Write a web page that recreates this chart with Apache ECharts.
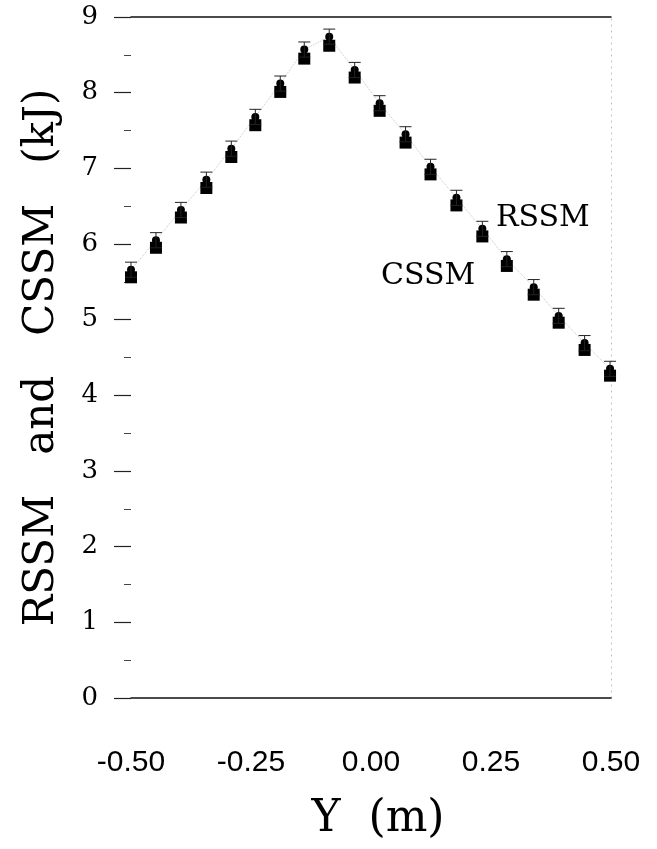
<!DOCTYPE html>
<html>
<head>
<meta charset="utf-8">
<script src="https://cdn.jsdelivr.net/npm/echarts@6/dist/echarts.min.js"></script>
<style>
html,body{margin:0;padding:0;background:#fff;}
#chart{width:657px;height:849px;}
</style>
</head>
<body>
<div id="chart"></div>
<script>
// Position Y (m)
const yPos = [-0.500, -0.448, -0.396, -0.343, -0.291, -0.241, -0.189, -0.139, -0.087, -0.034,
              0.018, 0.072, 0.124, 0.178, 0.232, 0.283, 0.339, 0.391, 0.445, 0.498];
// RSSM (kJ), circles with error bars
const rssm = [5.66, 6.05, 6.45, 6.85, 7.26, 7.68, 8.12, 8.57, 8.74, 8.30,
              7.86, 7.45, 7.02, 6.61, 6.20, 5.80, 5.43, 5.05, 4.69, 4.35];
// CSSM (kJ), squares
const cssm = [5.56, 5.95, 6.35, 6.74, 7.15, 7.57, 8.01, 8.45, 8.62, 8.20,
              7.76, 7.34, 6.92, 6.51, 6.10, 5.71, 5.33, 4.96, 4.60, 4.26];
// RSSM error (kJ)
const rssmErr = [0.10, 0.10, 0.10, 0.10, 0.10, 0.10, 0.10, 0.10, 0.10, 0.10,
                 0.10, 0.10, 0.10, 0.10, 0.10, 0.10, 0.10, 0.10, 0.10, 0.10];
const xTickValues = [-0.5, -0.25, 0, 0.25, 0.5];
const xTickLabels = ['-0.50', '-0.25', '0.00', '0.25', '0.50'];
const yTickLabels = ['0','1','2','3','4','5','6','7','8','9'];
// series text annotations [x, y, text]
const annotations = [[0.358, 6.34, 'RSSM'], [0.119, 5.58, 'CSSM']];

const chart = echarts.init(document.getElementById('chart'), null, {renderer: 'canvas'});

const rssmPts = yPos.map((x, i) => [x, rssm[i]]);
const cssmPts = yPos.map((x, i) => [x, cssm[i]]);
const errPts = yPos.map((x, i) => [x, rssm[i] - rssmErr[i], rssm[i] + rssmErr[i]]);

const option = {
  backgroundColor: '#ffffff',
  animation: false,
  grid: {left: 131, right: 46, top: 17, bottom: 151, containLabel: false},
  xAxis: [{
    type: 'value', min: -0.5, max: 0.5, interval: 0.25, position: 'bottom',
    axisLine: {show: true, onZero: false, lineStyle: {color: '#111', width: 1.5}},
    axisTick: {show: false},
    splitLine: {show: false},
    axisLabel: {
      margin: 50, fontFamily: 'Liberation Sans', fontSize: 30, color: '#000',
      formatter: v => { const k = xTickValues.findIndex(t => Math.abs(t - v) < 1e-9); return k >= 0 ? xTickLabels[k] : ''; }
    },
    name: 'Y  (m)', nameLocation: 'middle', nameGap: 100,
    nameTextStyle: {fontFamily: 'DejaVu Serif', fontSize: 44, color: '#000', padding: [0, 0, 0, 14]}
  }, {
    type: 'value', min: -0.5, max: 0.5, interval: 0.25, position: 'top',
    axisLine: {show: true, onZero: false, lineStyle: {color: '#111', width: 1.5}},
    axisTick: {show: false}, axisLabel: {show: false}, splitLine: {show: false}
  }],
  yAxis: [{
    type: 'value', min: 0, max: 9, interval: 1, position: 'left',
    axisLine: {show: false, onZero: false},
    axisTick: {show: true, inside: false, length: 17, lineStyle: {color: '#222', width: 1.2}},
    minorTick: {show: true, splitNumber: 2, length: 7, lineStyle: {color: '#444', width: 1}},
    splitLine: {show: false},
    axisLabel: {
      margin: 33, fontFamily: 'DejaVu Serif', fontSize: 26, color: '#000',
      formatter: v => yTickLabels[Math.round(v)] || ''
    },
    name: 'RSSM   and   CSSM   (kJ)', nameLocation: 'middle', nameGap: 68, nameRotate: 90,
    nameTextStyle: {fontFamily: 'DejaVu Serif', fontSize: 42, color: '#000'}
  }, {
    type: 'value', min: 0, max: 9, interval: 1, position: 'right',
    axisLine: {show: true, onZero: false, lineStyle: {color: '#bbb', width: 1, type: [1, 5]}},
    axisTick: {show: false}, axisLabel: {show: false}, splitLine: {show: false}
  }],
  series: [
    {
      type: 'line', data: rssmPts, symbol: 'none', z: 1,
      lineStyle: {color: '#c8c8c8', width: 1, type: 'dotted'}
    },
    {
      name: 'CSSM', type: 'scatter', data: cssmPts, symbol: 'rect', symbolSize: [12, 12], z: 2,
      itemStyle: {color: '#000', opacity: 1}
    },
    {
      name: 'RSSM', type: 'scatter', data: rssmPts, symbol: 'circle', symbolSize: 8, z: 3,
      itemStyle: {color: '#000', opacity: 1}
    },
    {
      type: 'custom', z: 4, data: errPts,
      renderItem: function (params, api) {
        const x = api.value(0);
        const lo = api.coord([x, api.value(1)]);
        const hi = api.coord([x, api.value(2)]);
        const hw = 6;
        const st = {stroke: '#222', lineWidth: 1};
        return {type: 'group', children: [
          {type: 'line', shape: {x1: hi[0], y1: hi[1], x2: lo[0], y2: lo[1]}, style: st},
          {type: 'line', shape: {x1: hi[0] - hw, y1: hi[1], x2: hi[0] + hw, y2: hi[1]}, style: st},
          {type: 'line', shape: {x1: lo[0] - hw, y1: lo[1], x2: lo[0] + hw, y2: lo[1]}, style: st}
        ]};
      }
    },
    {
      type: 'scatter', symbol: 'circle', symbolSize: 1, z: 5, silent: true,
      itemStyle: {color: 'rgba(255,255,255,0)', opacity: 1},
      data: annotations.map(a => ({value: [a[0], a[1]], name: a[2]})),
      label: {show: true, position: 'inside', formatter: p => p.name, opacity: 1,
        fontFamily: 'DejaVu Serif', fontSize: 30, color: '#000'}
    }
  ]
};
chart.setOption(option);
</script>
</body>
</html>
